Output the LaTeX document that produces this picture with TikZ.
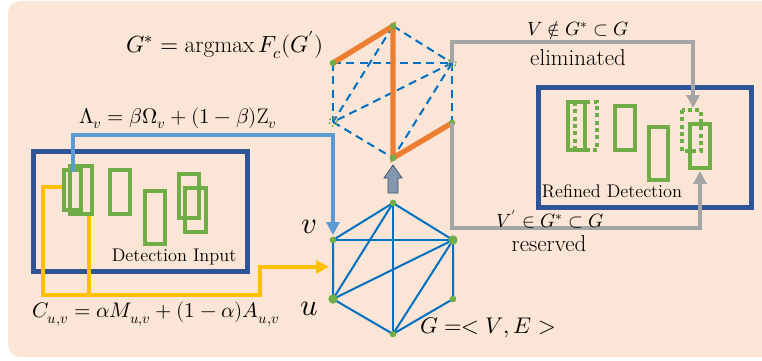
\documentclass[tikz,border=0pt]{standalone}
\usepackage{unicode-math}
\setmathfont{Latin Modern Math}
\usetikzlibrary{arrows.meta,fit}
\definecolor{bg}{HTML}{FBE5D6}
\definecolor{dblue}{HTML}{2F5597}
\definecolor{lblue}{HTML}{5B9BD5}
\definecolor{eblue}{HTML}{0070C0}
\definecolor{grn}{HTML}{70AD47}
\definecolor{ylw}{HTML}{FFC000}
\definecolor{orng}{HTML}{ED7D31}
\definecolor{gry}{HTML}{A5A5A5}
\definecolor{arrfill}{HTML}{8497B0}
\definecolor{arrdraw}{HTML}{44546A}
\tikzset{
 dbox/.style={draw=dblue, line width=3.75pt, inner sep=0pt},
 det/.style={draw=grn, line width=3pt},
 detdot/.style={draw=grn, line width=3pt, dash pattern=on 3pt off 2.5pt},
 gedge/.style={draw=eblue, line width=1.5pt},
 dedge/.style={draw=eblue, line width=1.5pt, dash pattern=on 6pt off 4pt},
 oedge/.style={draw=orng, line width=4pt},
 gdot/.style={circle, fill=grn, inner sep=0pt, minimum size=5pt},
 bigdot/.style={gdot, minimum size=7pt},
 missdot/.style={circle, draw=grn, dotted, line width=1.2pt, inner sep=0pt, minimum size=6pt},
 tipa/.style={-{Triangle[length=9.75pt,width=9.75pt]}},
 yl/.style={draw=ylw, line width=3pt},
 lb/.style={draw=lblue, line width=3pt},
 gr/.style={draw=gry, line width=3pt},
 mathlbl/.style={inner sep=0pt, font=\fontsize{15.8}{18}\selectfont},
 setlbl/.style={inner sep=0pt, font=\fontsize{14.4}{17}\selectfont},
 txtlbl/.style={inner sep=0pt, font=\fontsize{13.7}{16}\selectfont},
 wordlbl/.style={inner sep=0pt, font=\fontsize{17.2}{20}\selectfont},
 biglbl/.style={inner sep=0pt, font=\fontsize{23}{27}\selectfont},
}
\begin{document}
\begin{tikzpicture}[x=0.75pt,y=-0.75pt]
\useasboundingbox (0,0) rectangle (762,360);
\fill[bg, rounded corners=9pt] (8,1) rectangle (790,357);

% boxes
\node[dbox, fit={(33,151) (247,271)}] (inbox) {};
\node[dbox, fit={(538,87) (751,207)}] (outbox) {};

% detections input
\draw[det] (64,170) rectangle (81,210);
\draw[det] (70,166) rectangle (92,214);
\draw[det] (110,170) rectangle (130,214);
\draw[det] (145,191) rectangle (165,244);
\draw[det] (179,174) rectangle (199,218);
\draw[det] (185,188) rectangle (206,232);
\node[txtlbl] (inlbl) at (174,257) {Detection Input};

% refined detections
\draw[det] (568,102) rectangle (585,150);
\draw[detdot] (575,102) rectangle (597,150);
\draw[det] (615,106) rectangle (635,150);
\draw[det] (649,127) rectangle (668,180);
\draw[det] (690,124) rectangle (710,168);
\draw[detdot] (682,110) rectangle (701,151);
\node[txtlbl] (outlbl) at (612,191) {Refined Detection};

% bottom graph
\coordinate (b1) at (393,203);
\coordinate (b2) at (333,240);
\coordinate (b3) at (453,240);
\coordinate (b4) at (333,299);
\coordinate (b5) at (453,299);
\coordinate (b6) at (393,334);
\draw[gedge] (b1) -- (b2) -- (b4) -- (b6) -- (b5) -- (b3) -- (b1);
\draw[gedge] (b2) -- (b3);
\draw[gedge] (b1) -- (b4);
\draw[gedge] (b1) -- (b6);
\draw[gedge] (b3) -- (b4);
\draw[gedge] (b3) -- (b6);
\node[gdot] (v1) at (b1) {};
\node[gdot] (v2) at (b2) {};
\node[bigdot] (v3) at (b3) {};
\node[bigdot] (v4) at (b4) {};
\node[gdot] (v5) at (b5) {};
\node[gdot] (v6) at (b6) {};
\node[biglbl] (vlbl) at (309,227) {$v$};
\node[biglbl] (ulbl) at (309,309) {$u$};
\node[inner sep=0pt, font=\fontsize{17}{20}\selectfont] (glbl) at (488,328) {$G =< V, E >$};

% top graph
\coordinate (t1) at (393,26);
\coordinate (t2) at (333,63);
\coordinate (t3) at (452,63);
\coordinate (t4) at (333,122);
\coordinate (t5) at (452,123);
\coordinate (t6) at (393,158);
\draw[dedge] (t1) -- (t3);
\draw[dedge] (t2) -- (t3);
\draw[dedge] (t2) -- (t4);
\draw[dedge] (t3) -- (t5);
\draw[dedge] (t4) -- (t6);
\draw[dedge] (t1) -- (t4);
\draw[dedge] (t3) -- (t4);
\draw[dedge] (t3) -- (t6);
\draw[oedge] (t2) -- (t1) -- (t6) -- (t5);
\node[gdot] (u1) at (t1) {};
\node[gdot] (u2) at (t2) {};
\node[missdot] (u3) at (t3) {};
\node[missdot] (u4) at (t4) {};
\node[gdot] (u5) at (t5) {};
\node[gdot] (u6) at (t6) {};
\node[inner sep=0pt, font=\fontsize{17.5}{20}\selectfont] (gstar) at (225,45) {$G^* = \mathrm{argmax}\, F_c(G')$};

% block arrow
\draw[fill=arrfill, draw=arrdraw, line width=0.6pt]
  (393,165) -- (402,178) -- (398,178) -- (398,193) -- (388,193) -- (388,178) -- (384,178) -- cycle;

% Lambda connector
\coordinate (lamstart) at (73,172);
\coordinate (lamtip) at (333,235);
\draw[lb, tipa] (lamstart) |- (333,135) -- (lamtip);
\node[mathlbl] (lam) at (178,118) {$\Lambda_v = \beta\Omega_v + (1-\beta)\mathrm{Z}_v$};

% C connector
\coordinate (cstart) at (62,187);
\coordinate (cstart2) at (89,216);
\coordinate (cjoin) at (89,295);
\coordinate (ctip) at (329,267);
\draw[yl] (cstart2) -- (cjoin);
\draw[yl, tipa] (cstart) -| (43,295) -| (260,267) -- (ctip);
\node[mathlbl] (clbl) at (156,314) {$C_{u,v} = \alpha M_{u,v} + (1-\alpha) A_{u,v}$};

% gray connectors
\coordinate (elimtip) at (693,108);
\coordinate (restip) at (700,171);
\draw[gr, tipa] (t3) |- (693,42) -- (elimtip);
\draw[gr, tipa] (t5) |- (700,228) -- (restip);
\node[setlbl] (elimeq) at (578,31) {$V \notin G^* \subset G$};
\node[wordlbl] (elimtx) at (578,58) {eliminated};
\node[setlbl] (reseq) at (550,219) {$V' \in G^* \subset G$};
\node[wordlbl] (restx) at (549,244) {reserved};
\end{tikzpicture}
\end{document}
